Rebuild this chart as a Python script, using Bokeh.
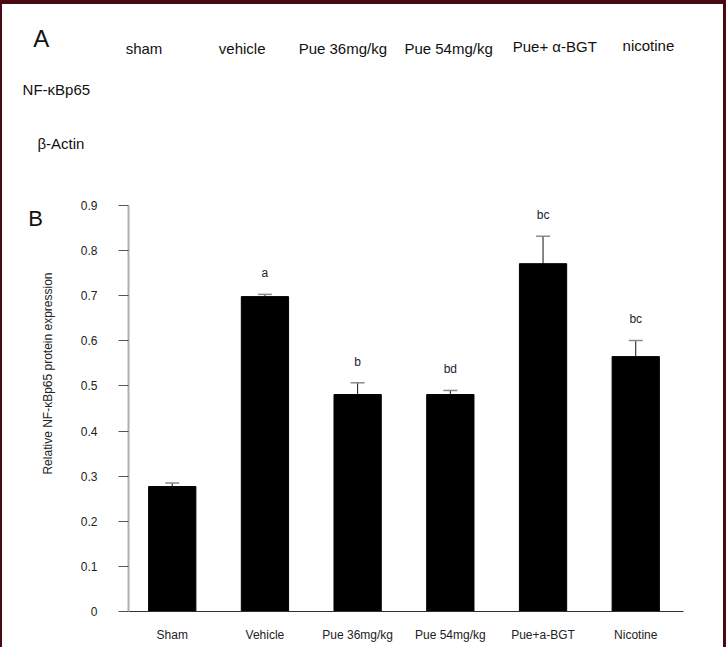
import numpy as np
from bokeh.plotting import figure
from bokeh.layouts import column, row
from bokeh.models import ColumnDataSource, FixedTicker, Whisker, TeeHead
from bokeh.core.properties import value
from bokeh.embed import file_html
from bokeh.resources import INLINE

# ---- data ----
categories = ["Sham", "Vehicle", "Pue 36mg/kg", "Pue 54mg/kg", "Pue+a-BGT", "Nicotine"]
expression = [0.277, 0.698, 0.481, 0.481, 0.771, 0.565]
sem = [0.008, 0.005, 0.026, 0.009, 0.061, 0.036]
letters = ["", "a", "b", "bd", "bc", "bc"]
y_ticks = [0.0, 0.1, 0.2, 0.3, 0.4, 0.5, 0.6, 0.7, 0.8, 0.9]
y_tick_labels = ["0", "0.1", "0.2", "0.3", "0.4", "0.5", "0.6", "0.7", "0.8", "0.9"]
blot_lanes = ["sham", "vehicle", "Pue 36mg/kg", "Pue 54mg/kg", "Pue+ \u03b1-BGT", "nicotine"]
blot_rows = ["NF-\u03baBp65", "\u03b2-Actin"]
y_title = "Relative NF-\u03baBp65 protein expression"

FONT = "Liberation Sans"
BORDER = "#4a0812"
BL, BT, BR = 2, 4, 3      # page border widths
W, H = 726, 647           # page size
SPLIT_Y = 195             # top panel / chart split
SPLIT_X = 60              # left strip / chart split
FRAME_T, FRAME_B = 205, 611   # chart frame top / bottom (page px)
FRAME_L, FRAME_R = 128, 680   # chart frame left / right (page px)


def text_fig(width, height, x0, x1, y0, y1, styles):
    f = figure(width=width, height=height, x_range=(x0, x1), y_range=(y1, y0),
               x_axis_type=None, y_axis_type=None, output_backend="svg",
               toolbar_location=None, min_border=0)
    f.grid.visible = False
    f.outline_line_color = None
    f.border_fill_color = "white"
    f.background_fill_color = "white"
    f.styles = styles
    return f


def put_text(f, xs, ys, texts, size, color="#111111", angle=0.0):
    f.text(x=xs, y=ys, text=texts, angle=angle, text_align="center", text_baseline="middle",
           text_font=value(FONT), text_font_size=size, text_color=color)


# ---- panel A (blot labels) : data coordinates == page pixels ----
top = text_fig(W, SPLIT_Y, BL, W - BR, BT, SPLIT_Y,
               {"border-top": f"{BT}px solid {BORDER}", "border-left": f"{BL}px solid {BORDER}",
                "border-right": f"{BR}px solid {BORDER}", "box-sizing": "border-box"})
put_text(top, [40.5], [37.5], ["A"], "24px")
lane_x = [142.5, 240, 340, 445, 550.5, 643.5]
lane_y = [47.5, 47.5, 47, 47, 45, 44]
put_text(top, lane_x, lane_y, blot_lanes, "15px")
row_x = [55.5, 60]
row_y = [87, 140.5]
put_text(top, row_x, row_y, blot_rows, "15px")

# ---- left strip: panel letter B and y-axis title (frame aligned with chart frame) ----
left = text_fig(SPLIT_X, H - SPLIT_Y, BL, SPLIT_X, FRAME_T, FRAME_B,
                {"border-left": f"{BL}px solid {BORDER}", "box-sizing": "border-box"})
put_text(left, [34], [218], ["B"], "22px")
put_text(left, [46], [373], [y_title], "12px", color="#222222", angle=float(np.pi / 2))

# ---- panel B bar chart ----
idx = list(range(len(categories)))
upper = [m + e for m, e in zip(expression, sem)]
src = ColumnDataSource(dict(x=idx, top=expression, upper=upper, letter=letters))

pitch = 92.2                                  # px per category
x_start = -43.5 / pitch
x_end = x_start + (FRAME_R - FRAME_L) / pitch

p = figure(width=W - SPLIT_X, height=H - SPLIT_Y, x_range=(x_start, x_end), y_range=(0, 0.9),
           output_backend="svg", toolbar_location=None,
           min_border_left=FRAME_L - SPLIT_X, min_border_right=(W - BR) - FRAME_R,
           min_border_top=FRAME_T - SPLIT_Y, min_border_bottom=H - FRAME_B)
p.styles = {"border-right": f"{BR}px solid {BORDER}", "box-sizing": "border-box"}
p.grid.visible = False
p.outline_line_color = None
p.background_fill_color = "white"
p.border_fill_color = "white"

p.vbar(x="x", top="top", bottom=0, width=0.51, source=src, fill_color="black", line_color="black")
p.add_layout(Whisker(base="x", lower="top", upper="upper", source=src, dimension="height",
                     line_color="#111111", line_width=1,
                     upper_head=TeeHead(size=14, line_color="#8a8a8a", line_width=1.5),
                     lower_head=None))
p.text(x="x", y="upper", text="letter", source=src, y_offset=-21,
       text_align="center", text_baseline="middle", text_font=value(FONT),
       text_font_size="12px", text_color="#1c1c38")

xa = p.xaxis[0]
xa.ticker = FixedTicker(ticks=idx)
xa.major_label_overrides = {i: c for i, c in zip(idx, categories)}
xa.major_tick_line_color = None
xa.minor_tick_line_color = None
xa.major_tick_out = 0
xa.major_tick_in = 0
xa.axis_line_color = "#303030"
xa.axis_line_width = 1
xa.major_label_standoff = 16
xa.axis_label_standoff = 0
xa.major_label_text_font = FONT
xa.major_label_text_font_size = "12px"
xa.major_label_text_color = "#222222"

ya = p.yaxis[0]
ya.ticker = FixedTicker(ticks=y_ticks)
ya.major_label_overrides = {t: l for t, l in zip(y_ticks, y_tick_labels)}
ya.minor_tick_line_color = None
ya.major_tick_in = 0
ya.major_tick_out = 10
ya.major_tick_line_color = "#555555"
ya.axis_line_color = "#b0b0b0"
ya.axis_line_width = 2
ya.major_label_standoff = 21
ya.axis_label_standoff = 0
ya.major_label_text_font = FONT
ya.major_label_text_font_size = "12px"
ya.major_label_text_color = "#222222"

layout = column(top, row(left, p))
open("out.html", "w").write(file_html(layout, INLINE))
